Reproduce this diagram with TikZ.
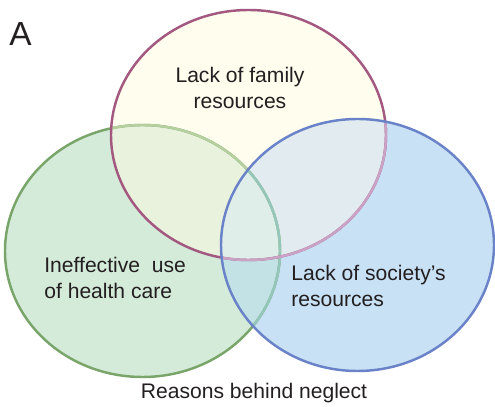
\documentclass[tikz,border=0pt]{standalone}
\usepackage{fontspec}
\setmainfont{Liberation Sans}
% fills of the sets and of their overlaps
\definecolor{hltfill}{HTML}{D5EBDA}
\definecolor{famfill}{HTML}{FFFDEE}
\definecolor{socfill}{HTML}{C8E1F5}
\definecolor{famhlt}{HTML}{E9F2DC}
\definecolor{sochlt}{HTML}{C2E2E6}
\definecolor{socfam}{HTML}{E2ECF0}
\definecolor{allthree}{HTML}{E0EEEA}
% outlines
\definecolor{hltline}{HTML}{79A56A}
\definecolor{famline}{HTML}{A3587F}
\definecolor{socline}{HTML}{6A82C8}
\definecolor{hltfadeA}{HTML}{B5CF9F}
\definecolor{hltfadeB}{HTML}{95C6BC}
\definecolor{famfade}{HTML}{C9A2C6}
\definecolor{txt}{HTML}{231F20}

\begin{document}
\begin{tikzpicture}[
    hltsize/.style={x radius=2.75cm, y radius=2.52cm},
    famsize/.style={x radius=2.75cm, y radius=2.5cm},
    socsize/.style={x radius=2.73cm, y radius=2.52cm},
    ring/.style={line width=1.4pt},
    lbl/.style={font=\fontsize{12}{14.5}\selectfont, text=txt, align=left, inner sep=0pt}
  ]
  \useasboundingbox (0,0) rectangle (9.9,8.14);
  % centres of the three sets
  \coordinate (hlt) at (2.85,3.12);
  \coordinate (fam) at (4.97,5.44);
  \coordinate (soc) at (7.15,3.24);

  % fills
  \fill[hltfill] (hlt) ellipse [hltsize];
  \fill[famfill] (fam) ellipse [famsize];
  \fill[socfill] (soc) ellipse [socsize];
  \begin{scope}
    \clip (fam) ellipse [famsize];
    \fill[famhlt] (hlt) ellipse [hltsize];
  \end{scope}
  \begin{scope}
    \clip (soc) ellipse [socsize];
    \fill[sochlt] (hlt) ellipse [hltsize];
    \fill[socfam] (fam) ellipse [famsize];
    \clip (fam) ellipse [famsize];
    \fill[allthree] (hlt) ellipse [hltsize];
  \end{scope}

  % outlines, faded where another set lies on top
  \draw[ring, hltline] (hlt) ellipse [hltsize];
  \begin{scope}
    \clip (fam) ellipse [famsize];
    \draw[ring, hltfadeA] (hlt) ellipse [hltsize];
  \end{scope}
  \begin{scope}
    \clip (soc) ellipse [socsize];
    \draw[ring, hltfadeB] (hlt) ellipse [hltsize];
  \end{scope}
  \draw[ring, famline] (fam) ellipse [famsize];
  \begin{scope}
    \clip (soc) ellipse [socsize];
    \draw[ring, famfade] (fam) ellipse [famsize];
  \end{scope}
  \draw[ring, socline] (soc) ellipse [socsize];

  % labels
  \node[lbl, font=\fontsize{19}{22}\selectfont] (panel) at (0.41,7.46) {A};
  \node[lbl, align=center] (family) at (4.8,6.38) {Lack of family\\resources};
  \node[lbl, anchor=west] (health) at (0.88,2.58) {Ineffective\ \ use\\of health care};
  \node[lbl, anchor=west] (society) at (5.82,2.42) {Lack of society’s\\resources};
  \node[lbl, align=center] (title) at (5.08,0.28) {Reasons behind neglect};
\end{tikzpicture}
\end{document}
